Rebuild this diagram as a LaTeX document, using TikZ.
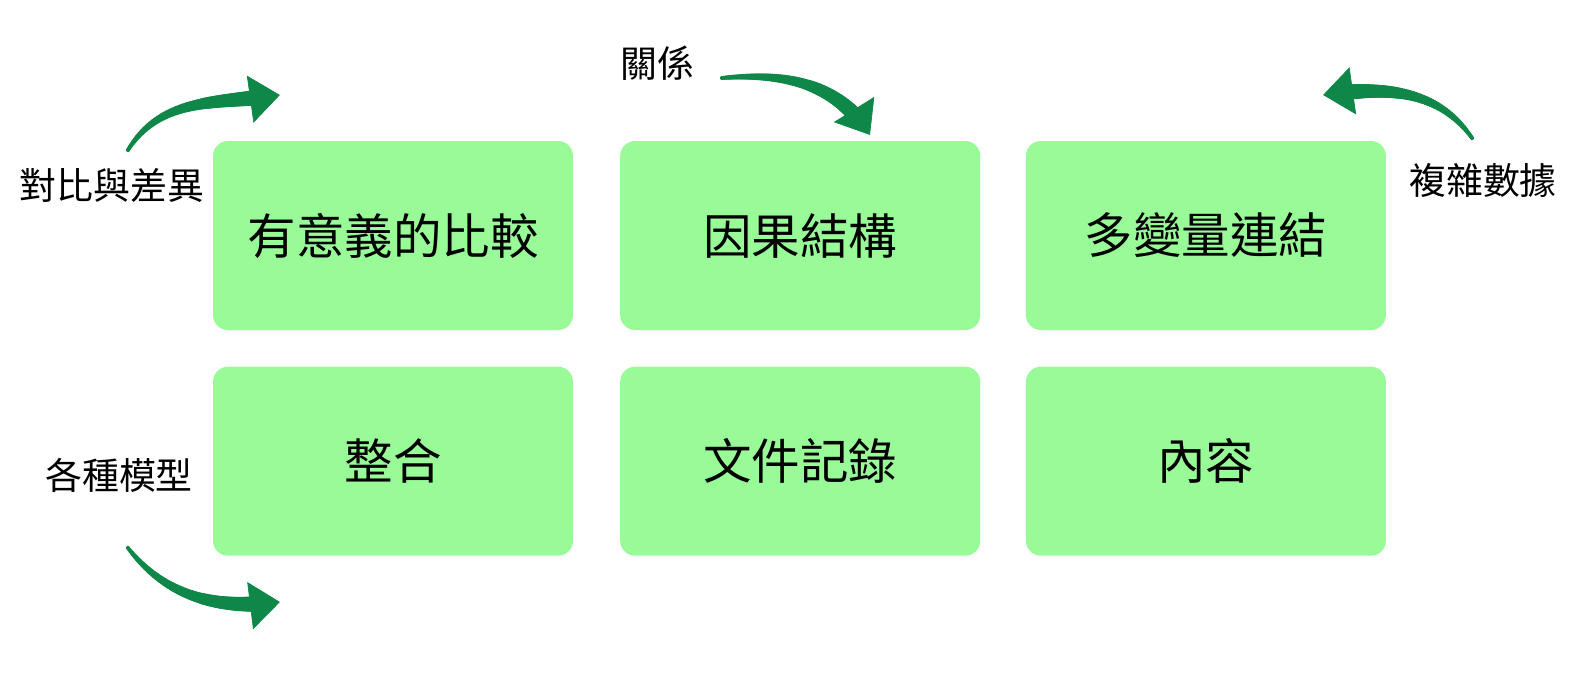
\documentclass[tikz,border=0pt]{standalone}
\usepackage{fontspec}
\setmainfont{Noto Sans CJK TC}
\usepackage{tikz}
\usetikzlibrary{arrows.meta,positioning,decorations.markings}
\definecolor{boxgreen}{RGB}{152,251,152}
\definecolor{arrowgreen}{RGB}{14,135,72}
\tikzstyle{box}=[rectangle,rounded corners=0.3cm,fill=boxgreen,minimum width=7.2cm,minimum height=3.78cm,font=\fontsize{27.6}{32}\selectfont]
\tikzstyle{note}=[inner sep=0pt,font=\fontsize{21}{25}\selectfont]

\begin{document}
\begin{tikzpicture}
        % tapered arrow: growing dots along the path, tip at the end
        \tikzset{flow/.style = {decoration={markings,
            mark=between positions 0 and -0.4cm step 0.4mm with {%
              \pgfmathsetmacro\rad{1.2+3.8*(\pgfkeysvalueof{/pgf/decoration/mark info/distance from start})/(\pgfdecoratedpathlength)}%
              \fill[arrowgreen] (0,0) circle (\rad pt);},
            mark=at position 1 with {\arrow[arrowgreen]{Triangle[width=0.95cm,length=0.6cm]}}},
          decorate}}
        \useasboundingbox (0,0) rectangle (31.76,13.44);
        \node[box] (cmp) at (7.86,8.73) {有意義的比較};
        \node[box,right=0.93cm of cmp] (cause) {因果結構};
        \node[box,right=0.9cm of cause] (multi) {多變量連結};
        \node[box,below=0.72cm of cmp] (merge) {整合};
        \node[box,below=0.72cm of cause] (docs) {文件記錄};
        \node[box,below=0.72cm of multi] (content) {內容};
        \node[note] (contrast) at (2.24,9.74) {對比與差異};
        \node[note] (models) at (2.38,3.94) {各種模型};
        \node[note] (rel) at (13.14,12.18) {關係};
        \node[note] (data) at (29.66,9.84) {複雜數據};
        \coordinate (t1) at (2.56,10.44);
        \coordinate (h1) at (5.6,11.54);
        \coordinate (t2) at (14.44,11.88);
        \coordinate (h2) at (17.4,10.74);
        \coordinate (t3) at (29.44,10.68);
        \coordinate (h3) at (26.46,11.54);
        \coordinate (t4) at (2.56,2.48);
        \coordinate (h4) at (5.6,1.4);
        \path[flow] (t1) to[out=58,in=188] (h1);
        \path[flow] (t2) to[out=5,in=122] (h2);
        \path[flow] (t3) to[out=125,in=8] (h3);
        \path[flow] (t4) to[out=-52,in=187] (h4);
      \end{tikzpicture}
\end{document}
